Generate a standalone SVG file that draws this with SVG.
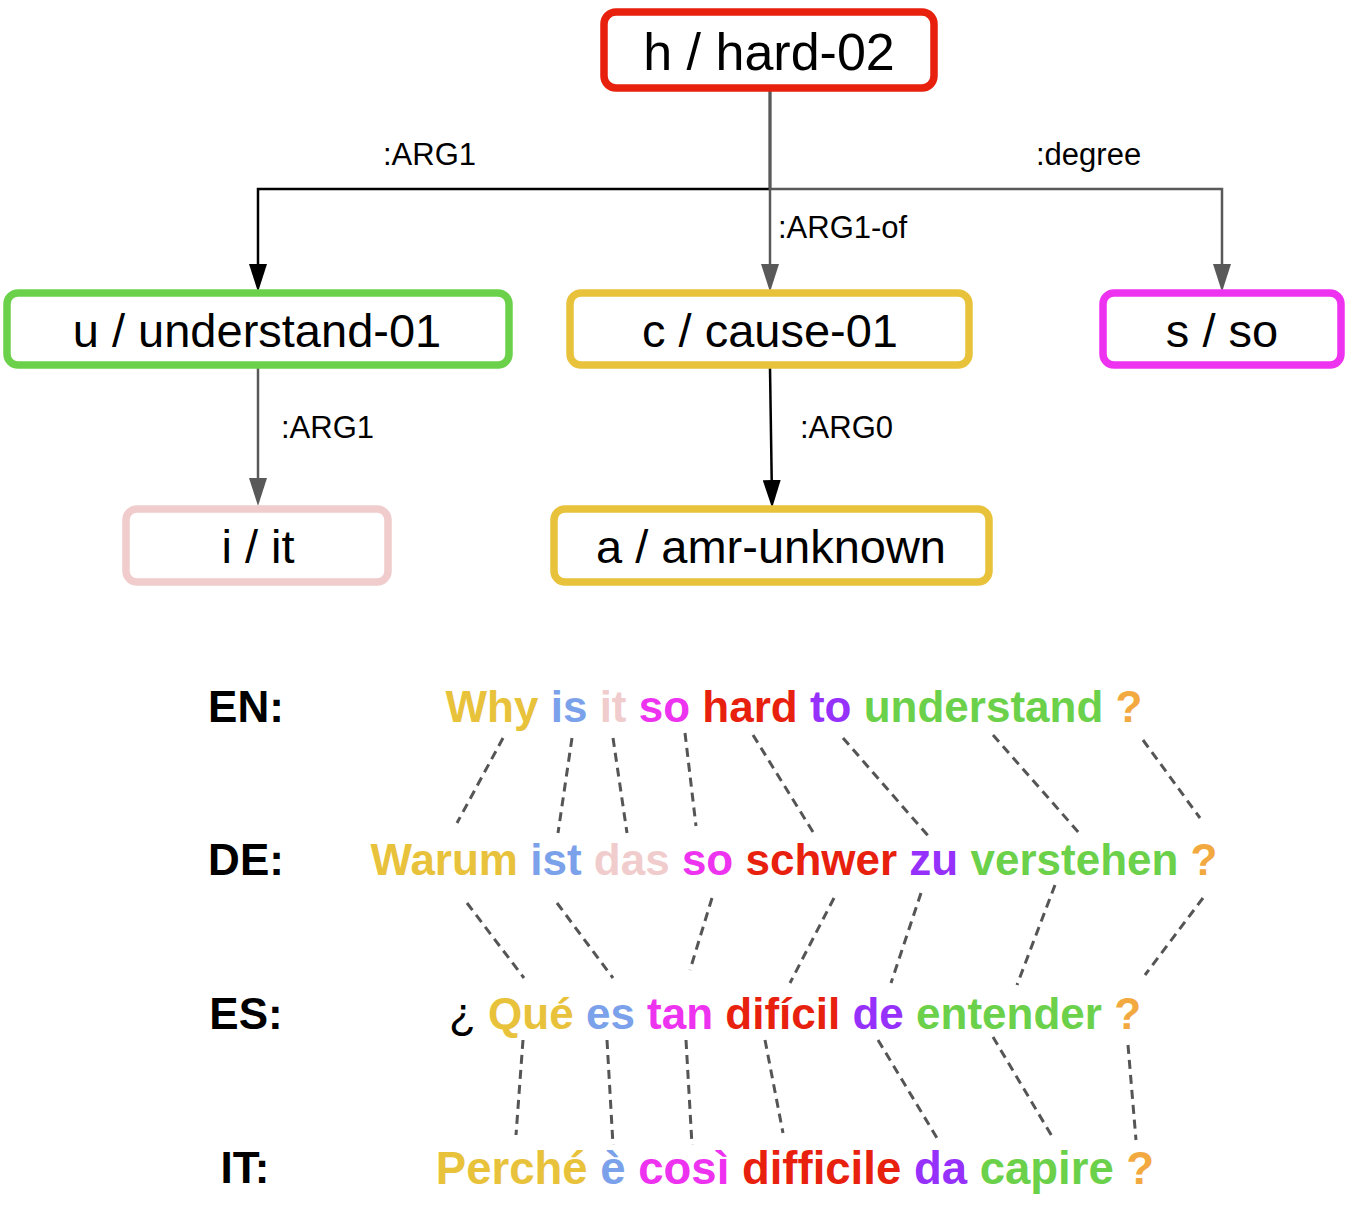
<svg xmlns="http://www.w3.org/2000/svg" width="1353" height="1212" viewBox="0 0 1353 1212">
<style>
.box{fill:#fff;stroke-width:7.5}
.nt{font-family:"Liberation Sans",Arial,sans-serif;font-size:47px;fill:#000;text-anchor:middle}
.el{font-family:"Liberation Sans",Arial,sans-serif;font-size:31px;fill:#000}
.blk{fill:none;stroke:#000;stroke-width:2.5}
.gry{fill:none;stroke:#595959;stroke-width:2.5}
.al{fill:none;stroke:#555;stroke-width:3;stroke-dasharray:9 6}
.sent{font-family:"Liberation Sans",Arial,sans-serif;font-size:44px;font-weight:bold;text-anchor:middle}
.y{fill:#e8c23b}.b{fill:#7aa1ea}.p{fill:#f0cccc}.m{fill:#ee33f0}.r{fill:#e8210f}.v{fill:#9630fb}.g{fill:#6cd14a}.o{fill:#f2a940}
</style>
<defs>
<marker id="ab" markerUnits="userSpaceOnUse" markerWidth="28" markerHeight="18" refX="20" refY="9" orient="auto" viewBox="0 0 28 18"><path d="M0,0 L28,9 L0,18 z" fill="#000"/></marker>
<marker id="ag" markerUnits="userSpaceOnUse" markerWidth="28" markerHeight="18" refX="20" refY="9" orient="auto" viewBox="0 0 28 18"><path d="M0,0 L28,9 L0,18 z" fill="#595959"/></marker>
</defs>
<rect width="1353" height="1212" fill="#fff"/>
<g id="connectors">
<path class="blk" d="M770,89 V189 H258 V284" marker-end="url(#ab)"/>
<path class="gry" d="M770,89 V189 H1222 V284" marker-end="url(#ag)"/>
<path class="gry" d="M770,89 V284" marker-end="url(#ag)"/>
<path class="gry" d="M258,368 V498" marker-end="url(#ag)"/>
<path class="blk" d="M770,368 L772,500" marker-end="url(#ab)"/>
<text class="el" x="383" y="165">:ARG1</text>
<text class="el" x="1036" y="165">:degree</text>
<text class="el" x="778" y="238">:ARG1-of</text>
<text class="el" x="281" y="438">:ARG1</text>
<text class="el" x="800" y="438">:ARG0</text>
</g>
<g id="h"><rect class="box" x="604" y="12" width="330" height="76" rx="12" stroke="#e8210f"/><text class="nt" x="769" y="70" style="font-size:52px">h / hard-02</text></g>
<g id="u"><rect class="box" x="7" y="293" width="502" height="72" rx="11" stroke="#6cd14a"/><text class="nt" x="257" y="347">u / understand-01</text></g>
<g id="c"><rect class="box" x="570" y="293" width="399" height="72" rx="11" stroke="#e8c23b"/><text class="nt" x="770" y="347">c / cause-01</text></g>
<g id="s"><rect class="box" x="1103" y="293" width="238" height="72" rx="11" stroke="#ee33f0"/><text class="nt" x="1222" y="347">s / so</text></g>
<g id="i"><rect class="box" x="126" y="509" width="262" height="73" rx="11" stroke="#f0cccc"/><text class="nt" x="258" y="563">i / it</text></g>
<g id="a"><rect class="box" x="554" y="509" width="435" height="73" rx="11" stroke="#e8c23b"/><text class="nt" x="771" y="563">a / amr-unknown</text></g>
<g id="alignments">
<path class="al" d="M503,738 L457,823"/>
<path class="al" d="M572,738 L558,833"/>
<path class="al" d="M613,738 L627,833"/>
<path class="al" d="M685,733 L696,826"/>
<path class="al" d="M753,735 L813,832"/>
<path class="al" d="M843,738 L930,838"/>
<path class="al" d="M993,735 L1080,834"/>
<path class="al" d="M1143,740 L1200,818"/>
<path class="al" d="M467,903 L524,978"/>
<path class="al" d="M557,903 L613,978"/>
<path class="al" d="M712,898 L690,970"/>
<path class="al" d="M834,898 L790,983"/>
<path class="al" d="M921,893 L891,983"/>
<path class="al" d="M1055,885 L1017,985"/>
<path class="al" d="M1203,898 L1145,975"/>
<path class="al" d="M523,1040 L516,1135"/>
<path class="al" d="M607,1040 L613,1145"/>
<path class="al" d="M686,1040 L692,1145"/>
<path class="al" d="M765,1040 L783,1133"/>
<path class="al" d="M878,1040 L937,1138"/>
<path class="al" d="M993,1037 L1053,1138"/>
<path class="al" d="M1128,1045 L1136,1140"/>
</g>
<g id="sentences">
<text class="sent" x="246" y="722" fill="#000">EN:</text>
<text class="sent" x="246" y="875" fill="#000">DE:</text>
<text class="sent" x="246" y="1029" fill="#000">ES:</text>
<text class="sent" x="245" y="1183" fill="#000">IT:</text>
<text class="sent" x="794" y="722"><tspan class="y">Why</tspan> <tspan class="b">is</tspan> <tspan class="p">it</tspan> <tspan class="m">so</tspan> <tspan class="r">hard</tspan> <tspan class="v">to</tspan> <tspan class="g">understand</tspan> <tspan class="o">?</tspan></text>
<text class="sent" x="794" y="875"><tspan class="y">Warum</tspan> <tspan class="b">ist</tspan> <tspan class="p">das</tspan> <tspan class="m">so</tspan> <tspan class="r">schwer</tspan> <tspan class="v">zu</tspan> <tspan class="g">verstehen</tspan> <tspan class="o">?</tspan></text>
<text class="sent" x="795" y="1029"><tspan fill="#000" font-weight="normal">¿</tspan> <tspan class="y">Qué</tspan> <tspan class="b">es</tspan> <tspan class="m">tan</tspan> <tspan class="r">difícil</tspan> <tspan class="v">de</tspan> <tspan class="g">entender</tspan> <tspan class="o">?</tspan></text>
<text class="sent" x="795" y="1184" style="font-size:45.5px"><tspan class="y">Perché</tspan> <tspan class="b">è</tspan> <tspan class="m">così</tspan> <tspan class="r">difficile</tspan> <tspan class="v">da</tspan> <tspan class="g">capire</tspan> <tspan class="o">?</tspan></text>
</g>
</svg>
